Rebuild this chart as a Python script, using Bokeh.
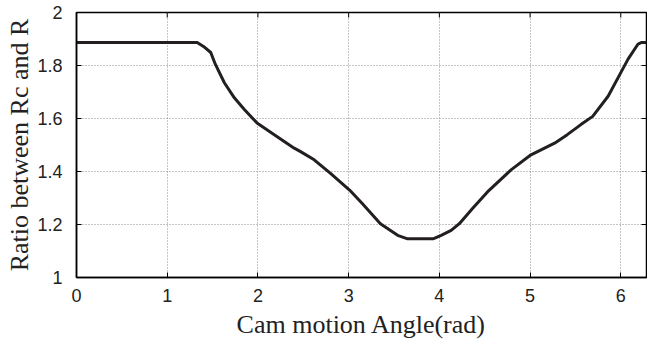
import math
from bokeh.plotting import figure
from bokeh.models import Range1d, FixedTicker
from bokeh.embed import file_html
from bokeh.resources import INLINE

# Data
angle = [0.0, 1.33, 1.40, 1.48, 1.53, 1.63, 1.74, 1.85, 1.99, 2.18, 2.40, 2.47, 2.62,
         2.80, 3.01, 3.15, 3.35, 3.54, 3.65, 3.93, 4.02, 4.13, 4.22, 4.37, 4.53,
         4.79, 5.01, 5.27, 5.41, 5.56, 5.69, 5.86, 6.00, 6.08, 6.19, 6.23, 6.283]
ratio = [1.887, 1.887, 1.872, 1.849, 1.805, 1.735, 1.678, 1.634, 1.583, 1.539, 1.488, 1.475, 1.444,
         1.393, 1.330, 1.279, 1.203, 1.159, 1.146, 1.146, 1.159, 1.178, 1.203, 1.262, 1.323,
         1.406, 1.463, 1.507, 1.539, 1.577, 1.608, 1.684, 1.773, 1.824, 1.881, 1.887, 1.887]

x_ticks = [0, 1, 2, 3, 4, 5, 6]
y_ticks = [1.0, 1.2, 1.4, 1.6, 1.8, 2.0]
y_tick_labels = ["1", "1.2", "1.4", "1.6", "1.8", "2"]
x_max = 2 * math.pi

p = figure(width=647, height=341, output_backend="svg", toolbar_location=None,
           x_range=Range1d(0, x_max), y_range=Range1d(1, 2),
           min_border_left=76, min_border_right=1, min_border_top=12, min_border_bottom=64)
p.background_fill_color = "white"
p.border_fill_color = "white"
p.outline_line_color = "black"
p.outline_line_width = 1.5

for g in (p.xgrid[0], p.ygrid[0]):
    g.grid_line_color = "#8a8a8a"
    g.grid_line_dash = "1 2"
    g.grid_line_width = 1

p.line(angle, ratio, line_color="#231f20", line_width=3, line_join="round")

# inward ticks on the top and right edges of the box
p.ray(x=x_ticks, y=[2.0] * len(x_ticks), length=5, length_units="screen",
      angle=-math.pi / 2, line_color="black", line_width=1)
p.ray(x=[x_max] * len(y_ticks), y=y_ticks, length=5, length_units="screen",
      angle=math.pi, line_color="black", line_width=1)

tick_font = "Liberation Sans"
label_font = "Liberation Serif"

xa = p.xaxis[0]
xa.ticker = FixedTicker(ticks=x_ticks)
ya = p.yaxis[0]
ya.ticker = FixedTicker(ticks=y_ticks)
ya.major_label_overrides = {t: s for t, s in zip(y_ticks, y_tick_labels)}

for ax in (xa, ya):
    ax.major_tick_in = 5
    ax.major_tick_out = 0
    ax.minor_tick_line_color = None
    ax.axis_line_color = "black"
    ax.axis_line_width = 1.5
    ax.major_tick_line_color = "black"
    ax.major_label_text_font = tick_font
    ax.major_label_text_font_size = "18px"
    ax.major_label_text_color = "#222222"
    ax.axis_label_text_font = label_font
    ax.axis_label_text_font_style = "normal"
    ax.axis_label_text_color = "#222222"

xa.axis_label = "Cam motion Angle(rad)"
xa.axis_label_text_font_size = "26px"
xa.major_label_standoff = 11
xa.axis_label_standoff = 5
ya.axis_label = "Ratio between Rc and R"
ya.axis_label_text_font_size = "26px"
ya.major_label_standoff = 14
ya.axis_label_standoff = 0

open("out.html", "w").write(file_html(p, INLINE))
